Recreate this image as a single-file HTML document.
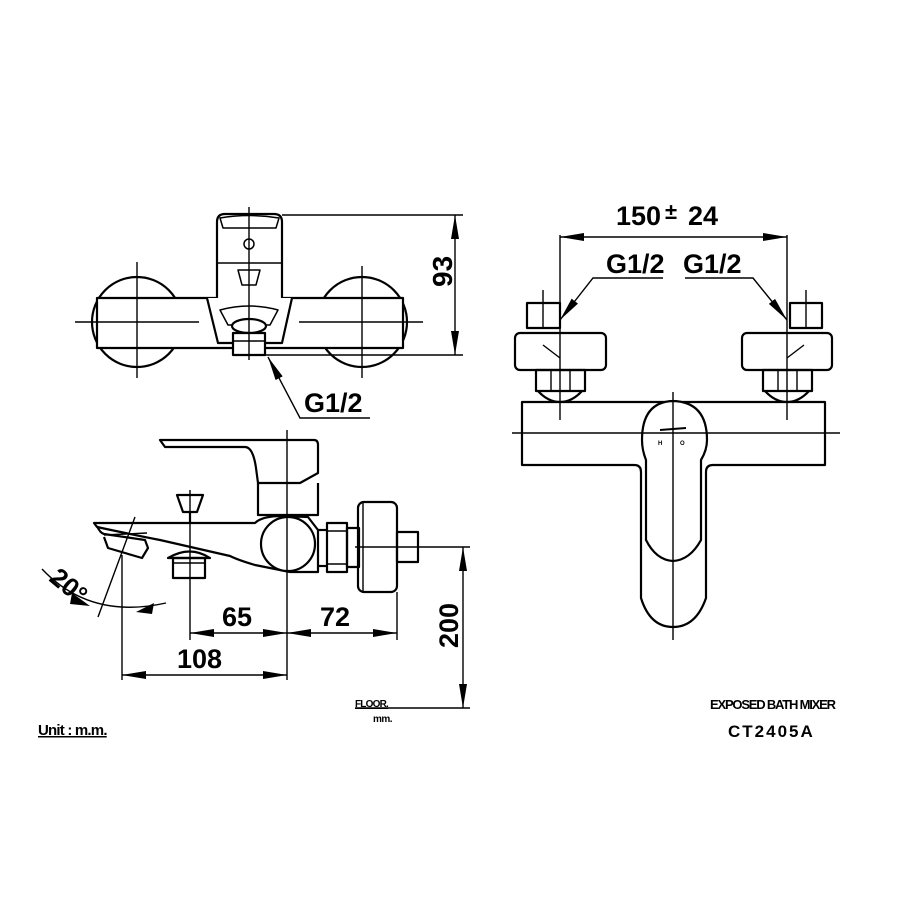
<!DOCTYPE html>
<html><head><style>
html,body{margin:0;padding:0;background:#fff;}
svg{display:block;}
text{font-family:"Liberation Sans",sans-serif;font-weight:bold;fill:#000;}
</style></head><body>
<svg width="900" height="900" viewBox="0 0 900 900" xmlns="http://www.w3.org/2000/svg">
<defs>
<marker id="ar2" viewBox="0 0 24 8" refX="24" refY="4" markerWidth="24" markerHeight="8" orient="auto-start-reverse" markerUnits="userSpaceOnUse">
<path d="M0,0 L24,4 L0,8 Z" fill="#000"/></marker>
</defs>
<g fill="none" stroke="#000" stroke-width="2.2" stroke-linejoin="round">
<!-- TOP VIEW -->
<circle cx="137" cy="322" r="45"/>
<circle cx="362" cy="322" r="45"/>
<rect x="97" y="298" width="306" height="50" fill="#fff"/>
<path d="M217,298 L217,222 Q217,214 225,214 L274,214 Q282,214 282,222 L282,298" fill="#fff"/>
<path d="M220,218 Q249,213 279,218 L276,228 L223,228 Z" stroke-width="1.5"/>
<line x1="217" y1="263" x2="282" y2="263" stroke-width="1.5"/>
<circle cx="249" cy="244" r="5" stroke-width="1.5"/>
<path d="M238,270 L260,270 L256,285 L242,285 Z" stroke-width="1.5"/>
<path d="M207,298 L218,343 L282,343 L292,298" fill="#fff"/>
<path d="M220,310 Q249,302 278,310 L270,325 L228,325 Z" stroke-width="1.5"/>
<ellipse cx="249" cy="326" rx="17" ry="7" fill="#fff"/>
<rect x="233" y="333" width="32" height="22" fill="#fff"/>
<line x1="233" y1="341" x2="265" y2="341" stroke-width="1.5"/>
</g>
<g stroke="#000" stroke-width="1.4" fill="none">
<line x1="249" y1="207" x2="249" y2="360"/>
<line x1="75" y1="322" x2="199" y2="322"/>
<line x1="299" y1="322" x2="423" y2="322"/>
<line x1="137" y1="262" x2="137" y2="378"/>
<line x1="362" y1="266" x2="362" y2="378"/>
<line x1="282" y1="215" x2="463" y2="215"/>
<line x1="265" y1="355" x2="463" y2="355"/>
<line x1="455" y1="215" x2="455" y2="355" marker-start="url(#ar2)" marker-end="url(#ar2)"/>
<polyline points="268,357 300,418 370,418" marker-start="url(#ar2)"/>
</g>
<text x="0" y="0" font-size="28" transform="translate(452,287) rotate(-90)">93</text>
<text x="304" y="412" font-size="27">G1/2</text>

<!-- SIDE VIEW -->
<g fill="none" stroke="#000" stroke-width="2.2" stroke-linejoin="round">
<path d="M160,440 L314,440 Q318,440 318,445 L318,473 L300,483 L258,483 L256,468 Q253,447 245,447 L165,447 Z"/>
<path d="M258,483 L258,515 L318,515 L318,483"/>
<path d="M94,523 L255,523 Q262,516 282,516 L308,517 L318,530 L318,572 L290,572 Q270,568 255,565 Q238,560 230,556 L160,540 Q120,532 97,527 Z"/>
<circle cx="288" cy="544" r="27" fill="#fff"/>
<path d="M97,526 Q100,533 104,534 L145,540 L148,548 L142,558 L108,548 L104,537"/>
<line x1="104" y1="535" x2="147" y2="533" stroke-width="1.4"/>
<path d="M177,495 L203,495 L197,512 L183,512 Z"/>
<line x1="190" y1="512" x2="190" y2="523"/>
<path d="M168,558 Q190,545 210,558 Z"/>
<rect x="173" y="558" width="32" height="20"/>
<line x1="173" y1="563" x2="205" y2="563" stroke-width="1.4"/>
<rect x="327" y="523" width="20" height="49"/>
<line x1="327" y1="531" x2="347" y2="531" stroke-width="1.4"/>
<line x1="327" y1="564" x2="347" y2="564" stroke-width="1.4"/>
<line x1="318" y1="530" x2="327" y2="530"/>
<line x1="318" y1="566" x2="327" y2="566"/>
<rect x="347" y="528" width="12" height="39"/>
<rect x="358" y="502" width="39" height="90" rx="6"/>
<line x1="363" y1="503" x2="363" y2="591" stroke-width="1.4"/>
<rect x="397" y="532" width="21" height="30"/>
</g>
<g stroke="#000" stroke-width="1.4" fill="none">
<line x1="287" y1="430" x2="287" y2="680"/>
<line x1="190" y1="490" x2="190" y2="640"/>
<line x1="122" y1="555" x2="122" y2="680"/>
<line x1="397" y1="592" x2="397" y2="640"/>
<line x1="135" y1="517" x2="98" y2="617"/>
<line x1="355" y1="547" x2="470" y2="547"/>
<line x1="355" y1="708" x2="470" y2="708"/>
<line x1="463" y1="547" x2="463" y2="708" marker-start="url(#ar2)" marker-end="url(#ar2)"/>
<line x1="190" y1="633" x2="287" y2="633" marker-start="url(#ar2)" marker-end="url(#ar2)"/>
<line x1="287" y1="633" x2="397" y2="633" marker-start="url(#ar2)" marker-end="url(#ar2)"/>
<line x1="122" y1="675" x2="287" y2="675" marker-start="url(#ar2)" marker-end="url(#ar2)"/>
<path d="M42,569 Q90,620 166,603"/>
</g>
<path d="M72,593 L90,606 L70,604 Z" fill="#000"/>
<path d="M154,603 L136,612 L152,614 Z" fill="#000"/>
<text font-size="26" transform="translate(48,580) rotate(40)">20°</text>
<text x="222" y="626" font-size="27">65</text>
<text x="320" y="626" font-size="27">72</text>
<text x="177" y="668" font-size="27">108</text>
<text font-size="27" transform="translate(458,648) rotate(-90)">200</text>
<text x="355" y="707" font-size="10" text-decoration="underline" letter-spacing="-0.8">FLOOR.</text>
<text x="373" y="722" font-size="10" letter-spacing="-0.5">mm.</text>
<text x="38" y="735" font-size="15" text-decoration="underline" letter-spacing="-0.8">Unit : m.m.</text>

<!-- FRONT VIEW -->
<g fill="none" stroke="#000" stroke-width="2.2" stroke-linejoin="round">
<path d="M522,402 L825,402 L825,465 L713,465 Q706,465 706,472 L706,598 Q696,627 673,627 Q650,627 641,598 L641,472 Q641,465 634,465 L522,465 Z" fill="#fff"/>
<path d="M642,440 Q642,402 673,401 Q707,402 707,440 Q707,450 701,460 L701,540 Q690,560 673,561 Q656,560 646,540 L646,460 Q642,450 642,440 Z" fill="#fff"/>
<rect x="527" y="303" width="33" height="25"/>
<rect x="515" y="333" width="91" height="37" rx="5" fill="#fff"/>
<line x1="543" y1="345" x2="560" y2="358" stroke-width="1.4"/>
<rect x="536" y="370" width="49" height="21"/>
<line x1="551" y1="370" x2="551" y2="391" stroke-width="1.4"/>
<line x1="570" y1="370" x2="570" y2="391" stroke-width="1.4"/>
<path d="M538,391 Q548,402 560,402 Q572,402 582,391"/>
<rect x="790" y="303" width="32" height="25"/>
<rect x="742" y="333" width="90" height="37" rx="5" fill="#fff"/>
<line x1="804" y1="345" x2="787" y2="358" stroke-width="1.4"/>
<rect x="763" y="370" width="49" height="21"/>
<line x1="778" y1="370" x2="778" y2="391" stroke-width="1.4"/>
<line x1="797" y1="370" x2="797" y2="391" stroke-width="1.4"/>
<path d="M765,391 Q775,402 787,402 Q799,402 809,391"/>
</g>
<g stroke="#000" stroke-width="1.4" fill="none">
<line x1="673" y1="392" x2="673" y2="640"/>
<line x1="512" y1="433" x2="840" y2="433"/>
<line x1="560" y1="235" x2="560" y2="420"/>
<line x1="787" y1="235" x2="787" y2="420"/>
<line x1="543" y1="290" x2="543" y2="328"/>
<line x1="806" y1="290" x2="806" y2="328"/>
<line x1="560" y1="237" x2="787" y2="237" marker-start="url(#ar2)" marker-end="url(#ar2)"/>
<polyline points="663,278 593,278 560,320" marker-end="url(#ar2)"/>
<polyline points="685,278 753,278 787,320" marker-end="url(#ar2)"/>
<line x1="660" y1="430" x2="686" y2="428" stroke-width="2"/>
</g>
<text x="658" y="445" font-size="6">H</text>
<text x="680" y="445" font-size="6">O</text>
<text x="616" y="225" font-size="27">150</text>
<text x="665" y="219" font-size="22">±</text>
<text x="688" y="225" font-size="27">24</text>
<text x="606" y="273" font-size="27">G1/2</text>
<text x="683" y="273" font-size="27">G1/2</text>
<text x="710" y="709" font-size="13" letter-spacing="-1.2">EXPOSED  BATH MIXER</text>
<text x="728" y="737" font-size="17" letter-spacing="2">CT2405A</text>
</svg>
</body></html>
